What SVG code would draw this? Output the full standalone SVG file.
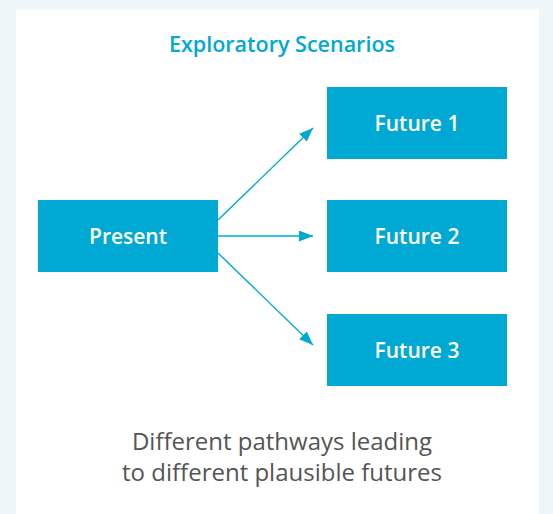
<svg xmlns="http://www.w3.org/2000/svg" width="553" height="514" viewBox="0 0 553 514">
<style>
.box{fill:#00A9D4;}
.lbl{font-family:"Open Sans","Noto Sans",sans-serif;font-size:21px;font-weight:600;fill:#ffffff;text-anchor:middle;}
.title{font-family:"Open Sans","Noto Sans",sans-serif;font-size:21.5px;font-weight:600;fill:#00A9D4;text-anchor:middle;}
.cap{font-family:"Open Sans","Noto Sans",sans-serif;font-size:24px;fill:#555555;text-anchor:middle;}
.conn{stroke:#00A9D4;stroke-width:1.4;fill:none;marker-end:url(#ah);}
</style>
<defs>
<marker id="ah" viewBox="0 0 14 11" refX="14" refY="5.5" markerWidth="14" markerHeight="11" markerUnits="userSpaceOnUse" orient="auto">
<path d="M0,0 L14,5.5 L0,11 Z" fill="#00A9D4"/>
</marker>
</defs>
<rect x="0" y="0" width="553" height="514" fill="#EEF6FA"/>
<rect x="16" y="9.5" width="523" height="505" fill="#ffffff"/>
<text class="title" x="282" y="52">Exploratory Scenarios</text>
<g id="connectors">
<line class="conn" x1="218" y1="220" x2="313" y2="128"/>
<line class="conn" x1="218" y1="236" x2="313" y2="236"/>
<line class="conn" x1="218" y1="253" x2="313" y2="345"/>
</g>
<g id="present">
<rect class="box" x="38" y="200" width="180" height="72"/>
<text class="lbl" x="128" y="244">Present</text>
</g>
<g id="future1">
<rect class="box" x="327" y="87" width="180" height="72"/>
<text class="lbl" x="417" y="131">Future 1</text>
</g>
<g id="future2">
<rect class="box" x="327" y="200" width="180" height="72"/>
<text class="lbl" x="417" y="244">Future 2</text>
</g>
<g id="future3">
<rect class="box" x="327" y="314" width="180" height="72"/>
<text class="lbl" x="417" y="358">Future 3</text>
</g>
<text class="cap" x="282" y="450">Different pathways leading</text>
<text class="cap" x="282" y="481">to different plausible futures</text>
</svg>
